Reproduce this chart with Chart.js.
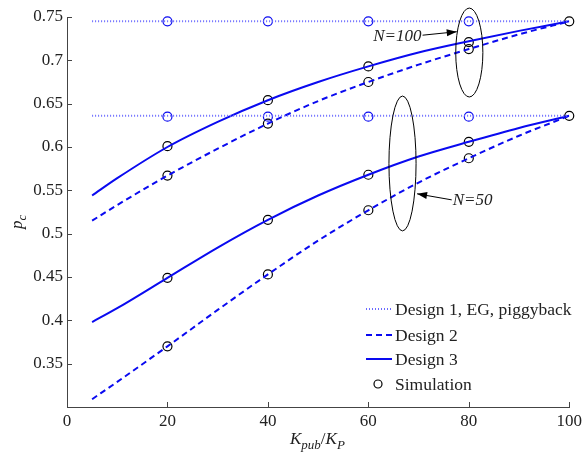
<!DOCTYPE html>
<html>
<head>
<meta charset="utf-8">
<script src="https://cdn.jsdelivr.net/npm/chart.js@4.4.1/dist/chart.umd.min.js"></script>
<style>
  html, body { margin: 0; padding: 0; background: #fff; }
  #wrap { width: 586px; height: 455px; }
</style>
</head>
<body>
<div id="wrap"><canvas id="pc"></canvas></div>
<script>
// ===== data =====
const kRatio = [5, 10, 20, 30, 40, 50, 60, 70, 80, 90, 100];

const d3N100 = [0.544, 0.564, 0.600, 0.629, 0.654, 0.675, 0.693, 0.709, 0.722, 0.734, 0.745];
const d2N100 = [0.515, 0.533, 0.567, 0.598, 0.627, 0.653, 0.675, 0.695, 0.713, 0.730, 0.745];
const d3N50  = [0.398, 0.414, 0.449, 0.484, 0.516, 0.544, 0.568, 0.589, 0.606, 0.622, 0.636];
const d2N50  = [0.309, 0.329, 0.370, 0.412, 0.453, 0.492, 0.527, 0.559, 0.587, 0.613, 0.636];

// design 1 / EG / piggyback is flat over K
const d1K = [5, 100];
const d1N100 = [0.745, 0.745];
const d1N50  = [0.636, 0.636];

// simulation points
const simK = [20, 40, 60, 80, 100];
const simD3N100 = [0.601, 0.654, 0.693, 0.721, 0.745];
const simD2N100 = [0.567, 0.627, 0.675, 0.713];
const simD3N50  = [0.449, 0.516, 0.568, 0.606, 0.636];
const simD2N50  = [0.370, 0.453, 0.527, 0.587];
const simD1K = [20, 40, 60, 80];
const simD1N100 = [0.745, 0.745, 0.745, 0.745];
const simD1N50  = [0.635, 0.635, 0.635, 0.635];

const xTicks = [0, 20, 40, 60, 80, 100];
const yTicks = [0.35, 0.4, 0.45, 0.5, 0.55, 0.6, 0.65, 0.7, 0.75];

// ===== style =====
const BLUE = "#0a0af0";
const DOT_BLUE = "#6a6aff";
const SERIF = "'Liberation Serif', 'DejaVu Serif', serif";
const TXT = "#222";

const zip = (xs, ys) => ys.map((y, i) => ({x: xs[i], y}));

function curve(ys, dashed) {
  return {
    type: "line",
    data: zip(kRatio, ys),
    borderColor: BLUE,
    borderWidth: 2,
    borderDash: dashed ? [6, 4] : [],
    pointRadius: 0,
    fill: false,
    cubicInterpolationMode: "monotone"
  };
}

function flat(ys) {
  return {
    type: "line",
    data: zip(d1K, ys),
    borderColor: DOT_BLUE,
    borderWidth: 2,
    borderDash: [1, 2],
    pointRadius: 0,
    fill: false
  };
}

function sims(xs, ys, color) {
  return {
    type: "scatter",
    data: zip(xs, ys),
    showLine: false,
    pointStyle: "circle",
    pointRadius: 4.5,
    pointBorderWidth: 1.2,
    borderColor: color,
    backgroundColor: "rgba(0,0,0,0)",
    pointBackgroundColor: "rgba(0,0,0,0)",
    pointBorderColor: color,
    clip: false
  };
}

// ===== annotations (ellipses + arrows, in data units) =====
const ellipses = [
  {x: 80.1, y: 0.709, rx: 2.7, ry: 0.0513},
  {x: 66.8, y: 0.581, rx: 2.7, ry: 0.0778}
];
const arrows = [
  {label: "N=100", x0: 70.8, y0: 0.729, x1: 77.6, y1: 0.733, align: "right"},
  {label: "N=50",  x0: 76.6, y0: 0.539, x1: 69.7, y1: 0.546, align: "left"}
];

function arrowHead(ctx, x0, y0, x1, y1) {
  const a = Math.atan2(y1 - y0, x1 - x0);
  const L = 10, W = 3.5;
  ctx.beginPath();
  ctx.moveTo(x1, y1);
  ctx.lineTo(x1 - L * Math.cos(a) + W * Math.sin(a), y1 - L * Math.sin(a) - W * Math.cos(a));
  ctx.lineTo(x1 - L * Math.cos(a) - W * Math.sin(a), y1 - L * Math.sin(a) + W * Math.cos(a));
  ctx.closePath();
  ctx.fill();
}

const notes = {
  id: "notes",
  afterDatasetsDraw(chart) {
    const {ctx, scales: {x, y}} = chart;
    ctx.save();
    ctx.strokeStyle = "#000";
    ctx.fillStyle = "#000";
    ctx.lineWidth = 1;
    ellipses.forEach(e => {
      const cx = x.getPixelForValue(e.x), cy = y.getPixelForValue(e.y);
      const rx = x.getPixelForValue(e.x + e.rx) - cx;
      const ry = cy - y.getPixelForValue(e.y + e.ry);
      ctx.beginPath();
      ctx.ellipse(cx, cy, rx, ry, 0, 0, Math.PI * 2);
      ctx.stroke();
    });
    ctx.font = "italic 17px " + SERIF;
    ctx.textBaseline = "middle";
    arrows.forEach(a => {
      const px0 = x.getPixelForValue(a.x0), py0 = y.getPixelForValue(a.y0);
      const px1 = x.getPixelForValue(a.x1), py1 = y.getPixelForValue(a.y1);
      ctx.beginPath();
      ctx.moveTo(px0, py0);
      ctx.lineTo(px1, py1);
      ctx.stroke();
      arrowHead(ctx, px0, py0, px1, py1);
      ctx.fillStyle = TXT;
      ctx.textAlign = a.align;
      ctx.fillText(a.label, px0 + (a.align === "left" ? 1 : -1), py0 + 1);
      ctx.fillStyle = "#000";
    });
    ctx.restore();
  }
};

// inward ticks, axis titles and legend
const frame = {
  id: "frame",
  afterDraw(chart) {
    const {ctx, chartArea: ca, scales: {x, y}} = chart;
    ctx.save();
    ctx.strokeStyle = "#444";
    ctx.lineWidth = 1;
    ctx.beginPath();
    xTicks.forEach(v => {
      const px = Math.round(x.getPixelForValue(v)) + 0.5;
      ctx.moveTo(px, ca.bottom);
      ctx.lineTo(px, ca.bottom - 5);
    });
    yTicks.forEach(v => {
      const py = Math.round(y.getPixelForValue(v)) + 0.5;
      ctx.moveTo(ca.left, py);
      ctx.lineTo(ca.left + 5, py);
    });
    ctx.stroke();

    // x title: K_pub / K_P
    ctx.fillStyle = TXT;
    ctx.textBaseline = "alphabetic";
    ctx.textAlign = "left";
    let tx = 290;
    const by = 444;
    const big = "italic 17px " + SERIF, small = "italic 13px " + SERIF;
    const put = (s, f, dy) => { ctx.font = f; ctx.fillText(s, tx, by + dy); tx += ctx.measureText(s).width; };
    put("K", big, 0);
    put("pub", small, 5);
    put("/", "17px " + SERIF, 0);
    put("K", big, 0);
    put("P", small, 5);

    // y title: p_c
    ctx.save();
    ctx.translate(22, 229);
    ctx.rotate(-Math.PI / 2);
    ctx.font = big;
    ctx.fillText("p", 0, 0);
    const pw = ctx.measureText("p").width;
    ctx.font = small;
    ctx.fillText("c", pw, 4);
    ctx.restore();

    // legend
    const lx0 = 366, lx1 = 392, tx0 = 395;
    const rows = [
      {y: 309, label: "Design 1, EG, piggyback", kind: "dot"},
      {y: 335, label: "Design 2", kind: "dash"},
      {y: 359, label: "Design 3", kind: "solid"},
      {y: 384, label: "Simulation", kind: "circle"}
    ];
    rows.forEach(r => {
      ctx.beginPath();
      if (r.kind === "circle") {
        ctx.strokeStyle = "#000";
        ctx.lineWidth = 1.2;
        ctx.setLineDash([]);
        ctx.arc(378, r.y, 4, 0, Math.PI * 2);
      } else {
        ctx.strokeStyle = r.kind === "dot" ? DOT_BLUE : BLUE;
        ctx.lineWidth = 2;
        ctx.setLineDash(r.kind === "dot" ? [1, 2] : r.kind === "dash" ? [6, 4] : []);
        ctx.moveTo(lx0, r.y);
        ctx.lineTo(lx1, r.y);
      }
      ctx.stroke();
      ctx.setLineDash([]);
      ctx.fillStyle = TXT;
      ctx.font = "17.5px " + SERIF;
      ctx.textBaseline = "middle";
      ctx.fillText(r.label, tx0, r.y + 1);
    });
    ctx.restore();
  }
};

new Chart(document.getElementById("pc"), {
  type: "line",
  data: {
    datasets: [
      flat(d1N100), flat(d1N50),
      curve(d2N100, true), curve(d3N100, false),
      curve(d2N50, true), curve(d3N50, false),
      sims(simD1K, simD1N100, BLUE), sims(simD1K, simD1N50, BLUE),
      sims(simK, simD3N100, "#000"), sims(simK.slice(0, 4), simD2N100, "#000"),
      sims(simK, simD3N50, "#000"), sims(simK.slice(0, 4), simD2N50, "#000")
    ]
  },
  options: {
    responsive: true,
    maintainAspectRatio: false,
    animation: false,
    layout: {padding: {top: 17, right: 13, left: 0, bottom: 0}},
    plugins: {legend: {display: false}, tooltip: {enabled: false}},
    scales: {
      x: {
        type: "linear",
        min: 0, max: 100,
        afterFit: s => { s.height = 48; },
        afterBuildTicks: s => { s.ticks = xTicks.map(v => ({value: v})); },
        grid: {display: false, drawTicks: false},
        border: {display: true, color: "#444", width: 1},
        ticks: {color: TXT, font: {family: SERIF, size: 17}, padding: 4, maxRotation: 0}
      },
      y: {
        type: "linear",
        min: 0.3, max: 0.75,
        afterFit: s => { s.width = 67; },
        afterBuildTicks: s => { s.ticks = yTicks.map(v => ({value: v})); },
        grid: {display: false, drawTicks: false},
        border: {display: true, color: "#444", width: 1},
        ticks: {
          color: TXT, font: {family: SERIF, size: 17}, padding: 4,
          callback: v => String(+v.toFixed(2))
        }
      }
    }
  },
  plugins: [notes, frame]
});
</script>
</body>
</html>
